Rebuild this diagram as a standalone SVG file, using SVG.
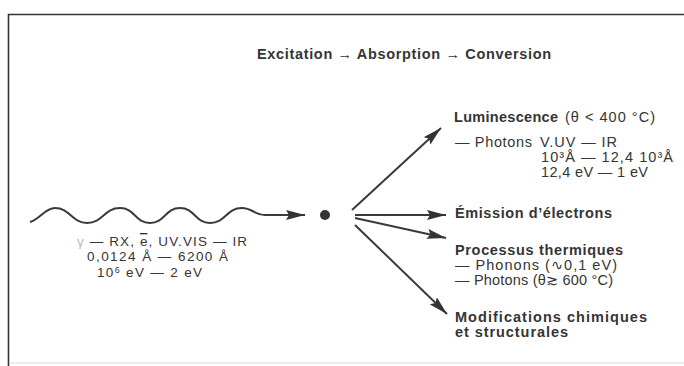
<svg xmlns="http://www.w3.org/2000/svg" width="684" height="366" viewBox="0 0 684 366">
<defs>
<style>
.t{font-family:"Liberation Sans",Arial,"DejaVu Sans",sans-serif;font-size:14.5px;fill:#353535}
.s{font-size:13.5px}
.b{font-weight:bold;font-size:14.5px}
.frame{stroke:#333;stroke-width:1.6;fill:none}
.conn{stroke:#3a3a3a;stroke-width:2;fill:none}
.sym{font-family:"DejaVu Sans",sans-serif}
</style>
<marker id="ah" markerUnits="userSpaceOnUse" markerWidth="20" markerHeight="10" refX="19" refY="5" orient="auto">
<path d="M0,0 L19,5 L0,10 L3,5 Z" fill="#333"/>
</marker>
</defs>
<rect width="684" height="366" fill="#fff"/>
<g id="frame">
<path class="frame" d="M684,14.5 L8.5,14.5 L8.5,366"/>
<line x1="9" y1="363" x2="684" y2="363" stroke="#d8d8d8" stroke-width="1.2"/>
</g>
<g id="title">
<text class="t b" x="257" y="59" textLength="294" lengthAdjust="spacing" fill="#444">Excitation → Absorption → Conversion</text>
</g>
<g id="connectors">
<path class="conn" marker-end="url(#ah)" d="M30,222 C40,219 45,208 55,208 C70,208 72,223 87,223 C103,223 104,208 120,208 C135,208 135,223 150,223 C165,223 165,208 180,208 C195,208 195,223 210,223 C226,223 226,208 242,208 C252,208 255,215 265,215 L305,215"/>
<line class="conn" x1="352" y1="210" x2="441" y2="128" marker-end="url(#ah)"/>
<line class="conn" x1="355" y1="215" x2="446" y2="215" marker-end="url(#ah)"/>
<line class="conn" x1="355" y1="218" x2="446" y2="238" marker-end="url(#ah)"/>
<line class="conn" x1="355" y1="225" x2="447" y2="314" marker-end="url(#ah)"/>
</g>
<g id="source">
<text class="t s" x="77" y="246" textLength="170" lengthAdjust="spacing"><tspan fill="#bbb">γ</tspan> — RX, <tspan text-decoration="overline">e</tspan>, UV.VIS — IR</text>
<text class="t s" x="87" y="261" textLength="141" lengthAdjust="spacing">0,0124 Å — 6200 Å</text>
<text class="t s" x="97" y="277" textLength="105" lengthAdjust="spacing">10<tspan dy="-4" font-size="9">6</tspan><tspan dy="4"> eV — 2 eV</tspan></text>
</g>
<g id="center">
<circle cx="325" cy="215" r="5" fill="#333"/>
</g>
<g id="luminescence">
<text class="t b" x="454" y="122" textLength="104" lengthAdjust="spacing">Luminescence</text>
<text class="t" x="565" y="122" textLength="90" lengthAdjust="spacing">(θ &lt; 400 °C)</text>
<text class="t" x="455" y="147" textLength="77" lengthAdjust="spacing">— Photons</text>
<text class="t" x="540" y="147" textLength="77" lengthAdjust="spacing">V.UV — IR</text>
<text class="t" x="541" y="162" textLength="132" lengthAdjust="spacing">10³Å — 12,4 10³Å</text>
<text class="t" x="541" y="177" textLength="107" lengthAdjust="spacing">12,4 eV — 1 eV</text>
</g>
<g id="emission">
<text class="t b" x="455" y="218" textLength="157" lengthAdjust="spacing">Émission d’électrons</text>
</g>
<g id="thermique">
<text class="t b" x="455" y="255" textLength="168" lengthAdjust="spacing">Processus thermiques</text>
<text class="t" x="455" y="270" textLength="162" lengthAdjust="spacing">— Phonons (<tspan class="sym">∿</tspan>0,1 eV)</text>
<text class="t" x="455" y="285" textLength="158" lengthAdjust="spacing">— Photons (θ<tspan class="sym">≳</tspan> 600 °C)</text>
</g>
<g id="modifications">
<text class="t b" x="455" y="322" textLength="192" lengthAdjust="spacing">Modifications chimiques</text>
<text class="t b" x="455" y="337" textLength="113" lengthAdjust="spacing">et structurales</text>
</g>
</svg>
